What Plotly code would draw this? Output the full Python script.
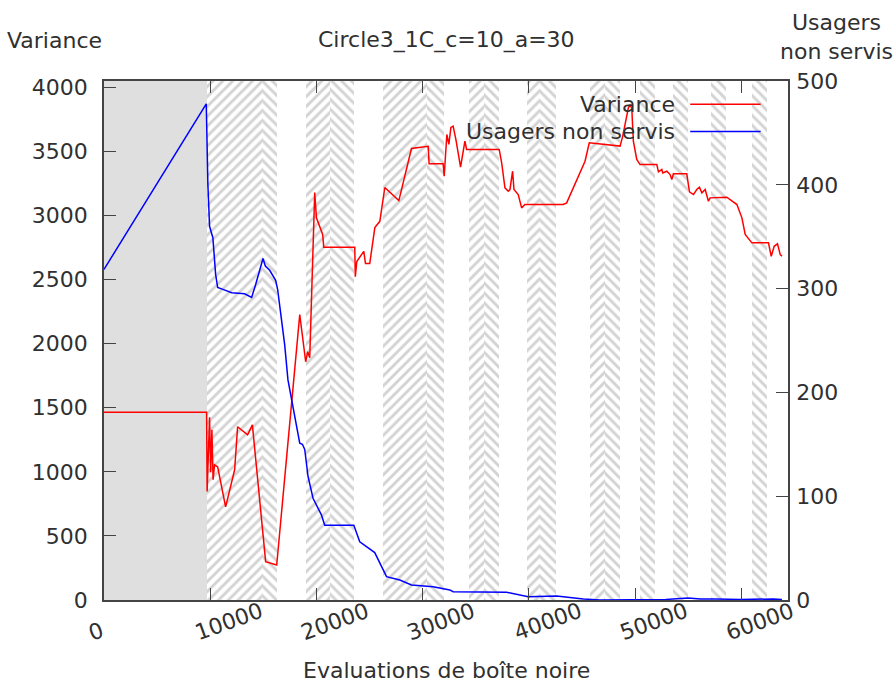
import plotly.graph_objects as go

# Variance (left axis)
var_x = [0, 9660, 9710, 9940, 10040, 10160, 10270, 10410, 10700, 11450, 12300, 12580, 13520, 13970,
         15220, 16260, 18430, 18990, 19180, 19370, 19840, 20000, 20590, 20690, 23610, 23660, 23800,
         24460, 24620, 25020, 25500, 25970, 26440, 27760, 28950, 30520, 30610, 31930, 32030, 32280,
         32470, 32660, 32870, 33130, 33570, 33980, 34140, 37210, 37440, 37750, 38060, 38220, 38470,
         38600, 39000, 39320, 39630, 43240, 43560, 45290, 45690, 48590, 48840, 49370, 49530, 49690,
         49840, 50160, 50470, 52050, 52200, 52520, 52610, 52990, 53300, 53460, 53610, 54870, 55120,
         55500, 55810, 56060, 56290, 56600, 56910, 57070, 58640, 59110, 59590, 60060, 60370, 61000,
         62560, 62820, 63100, 63410, 63670, 63830]
var_y = [1465, 1465, 846, 1426, 996, 1328, 938, 1055, 1039, 727, 1016, 1352, 1289, 1367,
         299, 273, 2227, 1859, 1938, 1891, 3180, 2982, 2852, 2752, 2752, 2523, 2641,
         2721, 2625, 2625, 2906, 2955, 3219, 3117, 3523, 3541, 3404, 3404, 3307, 3633,
         3555, 3688, 3698, 3594, 3377, 3580, 3516, 3516, 3412, 3216, 3190, 3203, 3346,
         3203, 3164, 3060, 3086, 3086, 3099, 3424, 3568, 3542, 3620, 3841, 3862, 3841,
         3580, 3438, 3398, 3398, 3341, 3359, 3333, 3346, 3320, 3281, 3326, 3326, 3185,
         3164, 3203, 3221, 3177, 3203, 3112, 3138, 3143, 3117, 3086, 2982, 2852, 2787,
         2787, 2682, 2760, 2779, 2695, 2682]

# Usagers non servis (right axis)
usr_x = [0, 9630, 9780, 9940, 10080, 10250, 10510, 10700, 11260, 12020, 13240, 13900, 14280,
         14970, 15190, 15600, 16160, 16350, 17010, 17320, 18430, 18680, 18900, 19210, 19680,
         20000, 20470, 20780, 23520, 24080, 25490, 26600, 27850, 28950, 30990, 32560, 32870,
         37910, 39940, 42620, 45130, 46700, 52360, 52900, 54990, 56160, 57570, 59930, 62990, 63830]
usr_y = [318.5, 478, 400.6, 360, 355, 349, 313.7, 301, 299, 296, 295, 291.5, 304,
         329, 321.7, 317.6, 308, 299, 246, 212, 151, 150, 145, 119, 98,
         92, 82, 72, 72, 56, 45.7, 22.5, 19.3, 14.5, 12.8, 9.7, 8,
         7.4, 3.2, 3.9, 1, 0, 1, 0.5, 2, 1, 1, 0.5, 1, 0.5]

# background bands
gray_start, gray_end = 0, 9660
band_start = [9660, 14940, 18990, 21250, 26250, 30400, 34360, 35770, 39820, 41050,
              45760, 47170, 50470, 53580, 57170, 61030]
band_end = [14940, 16260, 21250, 23520, 30400, 32000, 35770, 37180, 41050, 42550,
            47170, 48590, 51880, 54990, 58580, 62440]
band_shape = ['/', '\\', '/', '\\', '/', '\\', '/', '\\', '/', '\\',
              '/', '\\', '\\', '\\', '\\', '\\']

x_ticks = [0, 10000, 20000, 30000, 40000, 50000, 60000]
y_ticks = [0, 500, 1000, 1500, 2000, 2500, 3000, 3500, 4000]
y2_ticks = [0, 100, 200, 300, 400, 500]

X_MAX = 64400
Y_MAX = 4050
FONT = "DejaVu Sans"
FS = 22
TXT = "#303030"
FRAME = "#444444"

fig = go.Figure()

# solid gray region
fig.add_trace(go.Bar(
    x=[(gray_start + gray_end) / 2], y=[Y_MAX], width=[gray_end - gray_start],
    marker=dict(color="#dfdfdf", line=dict(width=0)),
    hoverinfo="skip", showlegend=False
))

# hatched bands
fig.add_trace(go.Bar(
    x=[(a + b) / 2 for a, b in zip(band_start, band_end)],
    y=[Y_MAX] * len(band_start),
    width=[b - a for a, b in zip(band_start, band_end)],
    marker=dict(color="white", line=dict(width=0),
                pattern=dict(shape=band_shape, fgcolor="#a8a8a8", bgcolor="white",
                             size=7, solidity=0.42)),
    hoverinfo="skip", showlegend=False
))

fig.add_trace(go.Scatter(
    x=var_x, y=var_y, mode="lines", name="Variance",
    line=dict(color="#ff0000", width=1.5), showlegend=False
))
fig.add_trace(go.Scatter(
    x=usr_x, y=usr_y, mode="lines", name="Usagers non servis", yaxis="y2",
    line=dict(color="#0000ff", width=1.5), showlegend=False
))

# rotated x tick labels
annotations = []
for v in x_ticks:
    annotations.append(dict(
        x=v, y=0, xref="x", yref="paper", text=str(v), showarrow=False,
        textangle=-20, xanchor="left", yanchor="bottom", xshift=-21, yshift=-48,
        font=dict(family=FONT, size=FS, color=TXT)
    ))

# axis titles and title
annotations += [
    dict(x=0, y=1, xref="paper", yref="paper", text="Variance", showarrow=False,
         xanchor="right", yanchor="middle", yshift=41, xshift=0,
         font=dict(family=FONT, size=FS, color=TXT)),
    dict(x=1, y=1, xref="paper", yref="paper", text="Usagers<br>non servis", showarrow=False,
         xanchor="center", yanchor="middle", yshift=44, xshift=48, align="center",
         font=dict(family=FONT, size=FS, color=TXT)),
    dict(x=0.5, y=1, xref="paper", yref="paper", text="Circle3_1C_c=10_a=30", showarrow=False,
         xanchor="center", yanchor="middle", yshift=41,
         font=dict(family=FONT, size=FS, color=TXT)),
    dict(x=0.5, y=0, xref="paper", yref="paper", text="Evaluations de boîte noire", showarrow=False,
         xanchor="center", yanchor="middle", yshift=-70,
         font=dict(family=FONT, size=FS, color=TXT)),
]

# legend, drawn by hand (text on the left, sample on the right)
legend_items = [("Variance", "#ff0000"), ("Usagers non servis", "#0000ff")]
shapes = []
for i, (name, col) in enumerate(legend_items):
    ly = 0.955 - i * 0.0525
    annotations.append(dict(
        x=0.838, y=ly, xref="paper", yref="paper", text=name, showarrow=False,
        xanchor="right", yanchor="middle", font=dict(family=FONT, size=FS, color=TXT)
    ))
    shapes.append(dict(type="line", xref="paper", yref="paper",
                       x0=0.857, x1=0.96, y0=ly, y1=ly, line=dict(color=col, width=1.5)))

axis_common = dict(
    showline=True, linecolor=FRAME, linewidth=1.5, ticks="inside", ticklen=12,
    tickcolor=FRAME, tickwidth=1.2, showgrid=False, zeroline=False,
    tickfont=dict(family=FONT, size=FS, color=TXT)
)

fig.update_layout(
    width=896, height=685,
    margin=dict(l=104, r=108, t=81, b=85),
    plot_bgcolor="white", paper_bgcolor="white",
    barmode="overlay", bargap=0,
    xaxis=dict(range=[0, X_MAX], tickvals=x_ticks, showticklabels=False,
               mirror="ticks", **axis_common),
    yaxis=dict(range=[0, Y_MAX], tickvals=y_ticks, ticklabelstandoff=10, **axis_common),
    yaxis2=dict(range=[0, 500], tickvals=y2_ticks, overlaying="y", side="right",
                ticklabelstandoff=2, **axis_common),
    annotations=annotations,
    shapes=shapes,
    showlegend=False,
)

fig.write_html("out.html", config={"displayModeBar": False},
               post_script="document.body.style.margin='0';")
